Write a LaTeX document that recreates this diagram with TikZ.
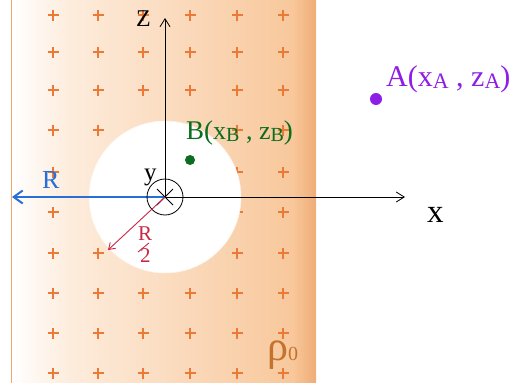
\documentclass[tikz,border=0pt]{standalone}
\usepackage{fontspec}
\setmainfont{Liberation Serif}
\usetikzlibrary{arrows.meta}
\definecolor{slablt}{RGB}{253,236,220}
\definecolor{slabor}{RGB}{248,200,156}
\definecolor{slabdk}{RGB}{240,172,118}
\definecolor{plusor}{RGB}{234,122,54}
\definecolor{edgeor}{RGB}{236,170,110}
\definecolor{blueR}{RGB}{40,110,215}
\definecolor{redR}{RGB}{200,40,70}
\definecolor{greenB}{RGB}{10,110,30}
\definecolor{purpA}{RGB}{140,30,230}
\definecolor{rhoc}{RGB}{195,115,45}
\newcommand{\fsz}[1]{\fontsize{#1}{#1}\selectfont}
\tikzset{
  plussign/.style={draw=plusor, line width=1.1pt},
  axis/.style={draw=black, line width=0.8pt, -{Straight Barb[length=8pt,width=10pt]}},
  lbl/.style={inner sep=0pt, anchor=base west},
}
\begin{document}
\begin{tikzpicture}[x=1pt,y=-1pt]
\useasboundingbox (0,0) rectangle (523,383);
\fill[white] (0,0) rectangle (523,383);
% slab with gradient
\shade[left color=white, right color=slablt] (11,0) rectangle (70,383);
\shade[left color=slablt, right color=slabor] (70,0) rectangle (292,383);
\shade[left color=slabor, right color=slabdk] (292,0) rectangle (316,383);
\draw[edgeor, line width=0.8pt] (11,0) -- (11,383);
% plus grid
\foreach \cx in {53,98,143,190,237,283}{
  \foreach \cy in {15,52,90,130,172,212,253,293,333,373}{
    \draw[plussign] (\cx-5.5,\cy) -- (\cx+5.5,\cy) (\cx,\cy-5.5) -- (\cx,\cy+5.5);
  }
}
% cavity
\fill[white] (165,197) circle (76);
\draw[white!80!slabor, line width=0.5pt] (165,197) circle (76);
\coordinate (O) at (165,197);
\coordinate (Ztip) at (165,18);
\coordinate (Xtip) at (405,197);
\coordinate (Rtip) at (12,197);
\coordinate (Htip) at (108,250);
% R arrow
\draw[blueR, line width=2pt, -{Straight Barb[length=9pt,width=13pt]}] (O) -- (Rtip);
\node[lbl, text=blueR, font=\fsz{26}] (Rl) at (42,188) {R};
% axes
\draw[axis] (O) -- (Ztip);
\draw[axis] (O) -- (Xtip);
\node[lbl, font=\fsz{24}] (Zl) at (136,26) {Z};
\node[lbl, font=\fsz{33}] (xl) at (427,222) {x};
\node[lbl, font=\fsz{25}] (yl) at (144,180) {y};
% y axis symbol
\node[draw=black, line width=0.8pt, circle, minimum size=36pt, inner sep=0pt] (ysym) at (O) {};
\draw[black, line width=0.8pt] (157,189) -- (173,205) (173,189) -- (157,205);
% R/2 arrow
\draw[redR, line width=0.9pt, -{Straight Barb[length=6pt,width=8pt]}] (O) -- (Htip);
\node[lbl, text=redR, font=\fsz{21}] (hR) at (138,240) {R};
\node[lbl, text=redR, font=\fsz{21}] (h2) at (140,262) {2};
\draw[redR, line width=0.9pt] (138,252) -- (149,243);
% point B
\node[circle, fill=greenB, inner sep=0pt, minimum size=10pt] (B) at (190,160) {};
\node[lbl, text=greenB, font=\fsz{27}] (Bl) at (186,139) {B(\fsz{26}x\raisebox{-2.5pt}{\fsz{20}B} , z\raisebox{-2.5pt}{\fsz{20}B}\fsz{27})};
% point A
\node[circle, fill=purpA, inner sep=0pt, minimum size=12pt] (A) at (376,99) {};
\node[lbl, text=purpA, font=\fsz{30}] (Al) at (386,86) {A(\fsz{30}x\raisebox{-2pt}{\fsz{22}A} , z\raisebox{-2pt}{\fsz{22}A}\fsz{30})};
% rho0
\node[lbl, text=rhoc, font=\fsz{42}] (rho) at (267,360) {ρ\fsz{20}0};
\end{tikzpicture}
\end{document}
